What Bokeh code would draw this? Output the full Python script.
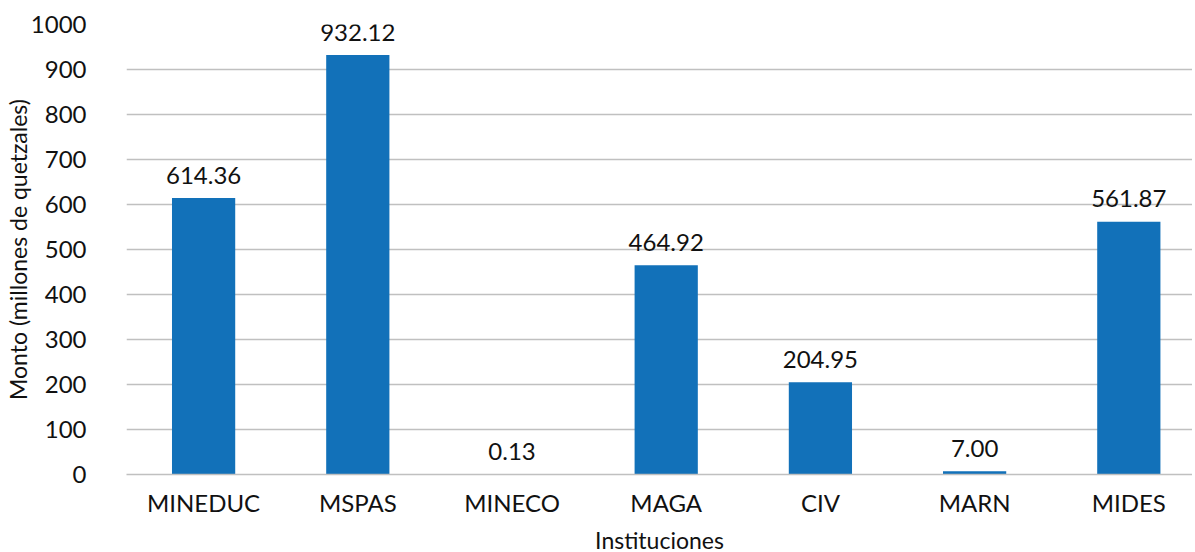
from bokeh.plotting import figure
from bokeh.models import ColumnDataSource, Range1d, FixedTicker, SingleIntervalTicker
from bokeh.embed import file_html
from bokeh.resources import INLINE
from bokeh.core.properties import value

categories = ["MINEDUC", "MSPAS", "MINECO", "MAGA", "CIV", "MARN", "MIDES"]
amounts = [614.36, 932.12, 0.13, 464.92, 204.95, 7.00, 561.87]
value_labels = ["614.36", "932.12", "0.13", "464.92", "204.95", "7.00", "561.87"]
y_title = "Monto (millones de quetzales)"
x_title = "Instituciones"

positions = list(range(len(categories)))
src = ColumnDataSource(dict(x=positions, top=amounts, label=value_labels))

FONT = "Lato"
BLUE = "#1271B9"
GRID = "#c0c0c0"
TXT = "#111111"

p = figure(frame_width=1066, frame_height=450,
           x_range=Range1d(-0.5, 6.413), y_range=Range1d(0, 1000),
           output_backend="svg", toolbar_location=None,
           min_border_left=121, min_border_right=0, min_border_top=24,
           min_border_bottom=60)
p.outline_line_color = None
p.background_fill_color = "white"
p.border_fill_color = "white"

p.vbar(x="x", top="top", bottom=0, width=0.41, source=src,
       fill_color=BLUE, line_color=None)
p.text(x="x", y="top", text="label", source=src, text_align="center",
       text_baseline="alphabetic", y_offset=-23, text_font=value(FONT),
       text_font_size="24px", text_color=TXT)

# axes
p.xaxis.ticker = FixedTicker(ticks=positions)
p.xaxis.major_label_overrides = {i: c for i, c in zip(positions, categories)}
p.xaxis.major_tick_line_color = None
p.xaxis.minor_tick_line_color = None
p.xaxis.axis_line_color = GRID
p.xaxis.axis_line_width = 1.5
p.xaxis.major_label_text_font = FONT
p.xaxis.major_label_text_font_size = "24px"
p.xaxis.major_label_text_color = TXT
p.xaxis.major_label_standoff = 7
p.xaxis.axis_label = x_title
p.xaxis.axis_label_text_font = FONT
p.xaxis.axis_label_text_font_style = "normal"
p.xaxis.axis_label_text_font_size = "23px"
p.xaxis.axis_label_text_color = TXT
p.xaxis.axis_label_standoff = 6

p.yaxis.ticker = SingleIntervalTicker(interval=100)
p.yaxis.major_tick_line_color = None
p.yaxis.minor_tick_line_color = None
p.yaxis.axis_line_color = None
p.yaxis.major_label_text_font = FONT
p.yaxis.major_label_text_font_size = "24px"
p.yaxis.major_label_text_color = TXT
p.yaxis.major_label_standoff = 34
p.yaxis.axis_label = y_title
p.yaxis.axis_label_text_font = FONT
p.yaxis.axis_label_text_font_style = "normal"
p.yaxis.axis_label_text_font_size = "23px"
p.yaxis.axis_label_text_color = TXT
p.yaxis.axis_label_standoff = -4

p.xgrid.grid_line_color = None
p.ygrid.grid_line_color = GRID
p.ygrid.grid_line_width = 1.5

open("out.html", "w").write(file_html(p, INLINE))
